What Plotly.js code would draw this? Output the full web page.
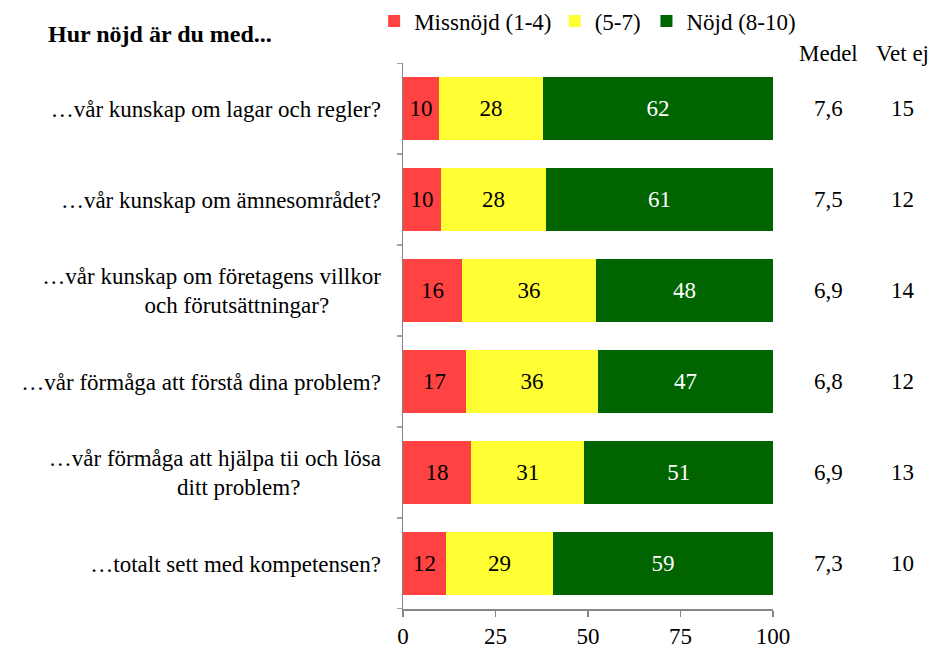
<!DOCTYPE html>
<html>
<head>
<meta charset="utf-8">
<script src="https://cdn.plot.ly/plotly-3.0.1.min.js"></script>
<style>
html,body{margin:0;padding:0;background:#fff;}
#chart{width:932px;height:648px;}
</style>
</head>
<body>
<div id="chart"></div>
<script>
const NB = '\u00A0';
const categories = [
  '…vår kunskap om lagar och regler?',
  '…vår kunskap om ämnesområdet?',
  '…vår kunskap om företagens villkor<br>och förutsättningar?' + NB.repeat(9),
  '…vår förmåga att förstå dina problem?',
  '…vår förmåga att hjälpa tii och lösa<br>ditt problem?' + NB.repeat(14),
  '…totalt sett med kompetensen?'
];
const seriesNames = ['Missnöjd (1-4)', '(5-7)', 'Nöjd (8-10)'];
// bar widths (percent)
const missnojd = [9.7, 10.3, 15.9, 17.0, 18.4, 11.6];
const mellan   = [28.1, 28.3, 36.3, 35.7, 30.6, 29.0];
const nojd     = [62.2, 61.4, 47.8, 47.3, 51.0, 59.4];
// printed labels
const missnojdLbl = [10, 10, 16, 17, 18, 12];
const mellanLbl   = [28, 28, 36, 36, 31, 29];
const nojdLbl     = [62, 61, 48, 47, 51, 59];
const medel = ['7,6', '7,5', '6,9', '6,8', '6,9', '7,3'];
const vetEj = ['15', '12', '14', '12', '13', '10'];
const xTicks = [0, 25, 50, 75, 100];

const FONT = 'Liberation Serif, Times New Roman, serif';
const FS = 23;
const colors = ['#FF4343', '#FFFF33', '#006400'];
const textColors = ['#000000', '#000000', '#FFFFFF'];
const yIdx = categories.map((c, i) => i);

const vals = [missnojd, mellan, nojd];
const lbls = [missnojdLbl, mellanLbl, nojdLbl];
const legendIds = ['legend', 'legend2', 'legend3'];

const traces = vals.map((v, k) => ({
  type: 'bar',
  orientation: 'h',
  name: seriesNames[k],
  x: v,
  y: yIdx,
  text: lbls[k].map(String),
  textposition: 'inside',
  insidetextanchor: 'middle',
  constraintext: 'none',
  textangle: 0,
  textfont: {family: FONT, size: FS, color: textColors[k]},
  marker: {color: colors[k], line: {width: 0}},
  hoverinfo: 'none',
  legend: legendIds[k]
}));

const annotations = [];
annotations.push({xref: 'paper', yref: 'paper', x: 1.151, y: 1.018, text: 'Medel',
  showarrow: false, xanchor: 'center', yanchor: 'middle', font: {family: FONT, size: FS, color: '#000'}});
annotations.push({xref: 'paper', yref: 'paper', x: 1.351, y: 1.018, text: 'Vet ej',
  showarrow: false, xanchor: 'center', yanchor: 'middle', font: {family: FONT, size: FS, color: '#000'}});
yIdx.forEach(i => {
  annotations.push({xref: 'paper', yref: 'y', x: 1.151, y: i, text: medel[i], showarrow: false,
    xanchor: 'center', yanchor: 'middle', font: {family: FONT, size: FS, color: '#000'}});
  annotations.push({xref: 'paper', yref: 'y', x: 1.351, y: i, text: vetEj[i], showarrow: false,
    xanchor: 'center', yanchor: 'middle', font: {family: FONT, size: FS, color: '#000'}});
});

const legendBase = {
  orientation: 'h', yanchor: 'middle', xanchor: 'left',
  yref: 'container', y: 1 - 21 / 648,
  bgcolor: 'rgba(0,0,0,0)', borderwidth: 0,
  font: {family: FONT, size: FS, color: '#000'},
  itemclick: false, itemdoubleclick: false
};

const layout = {
  width: 932, height: 648,
  margin: {l: 403, r: 159, t: 63, b: 39, pad: 0},
  paper_bgcolor: '#fff', plot_bgcolor: '#fff',
  barmode: 'stack',
  bargap: 0.31,
  font: {family: FONT, size: FS, color: '#000'},
  title: {
    text: '<b>Hur nöjd är du med...</b>',
    x: 48 / 932, xanchor: 'left', xref: 'container',
    y: 1 - 34 / 648, yanchor: 'middle', yref: 'container',
    font: {family: FONT, size: 24, color: '#000'}
  },
  showlegend: true,
  legend: Object.assign({}, legendBase, {x: -0.078}),
  legend2: Object.assign({}, legendBase, {x: 0.41}),
  legend3: Object.assign({}, legendBase, {x: 0.658}),
  xaxis: {
    range: [0, 100], tickvals: xTicks, ticktext: xTicks.map(String),
    showgrid: false, zeroline: false,
    showline: true, linecolor: '#868686', linewidth: 1.5,
    ticks: 'outside', ticklen: 6, tickcolor: '#868686', tickwidth: 1.5,
    tickfont: {family: FONT, size: FS, color: '#000'},
    automargin: false,
    fixedrange: true
  },
  yaxis: {
    type: 'linear',
    range: [5.5, -0.5],
    tickvals: yIdx, ticktext: categories,
    showgrid: false, zeroline: false,
    showline: true, linecolor: '#868686', linewidth: 1.5,
    ticks: '',
    tickfont: {family: FONT, size: FS, color: '#000'},
    ticklabelstandoff: 16,
    automargin: false,
    fixedrange: true
  },
  shapes: [],
  annotations: annotations
};

// boundary ticks on the category axis (left of the y axis line)
for (let b = 0; b <= categories.length; b++) {
  layout.shapes.push({type: 'line', xref: 'paper', yref: 'y', x0: -0.0165, x1: 0, y0: b - 0.5, y1: b - 0.5,
    line: {color: '#868686', width: 1.5}});
}

Plotly.newPlot('chart', traces, layout, {displayModeBar: false, staticPlot: true});
</script>
</body>
</html>
